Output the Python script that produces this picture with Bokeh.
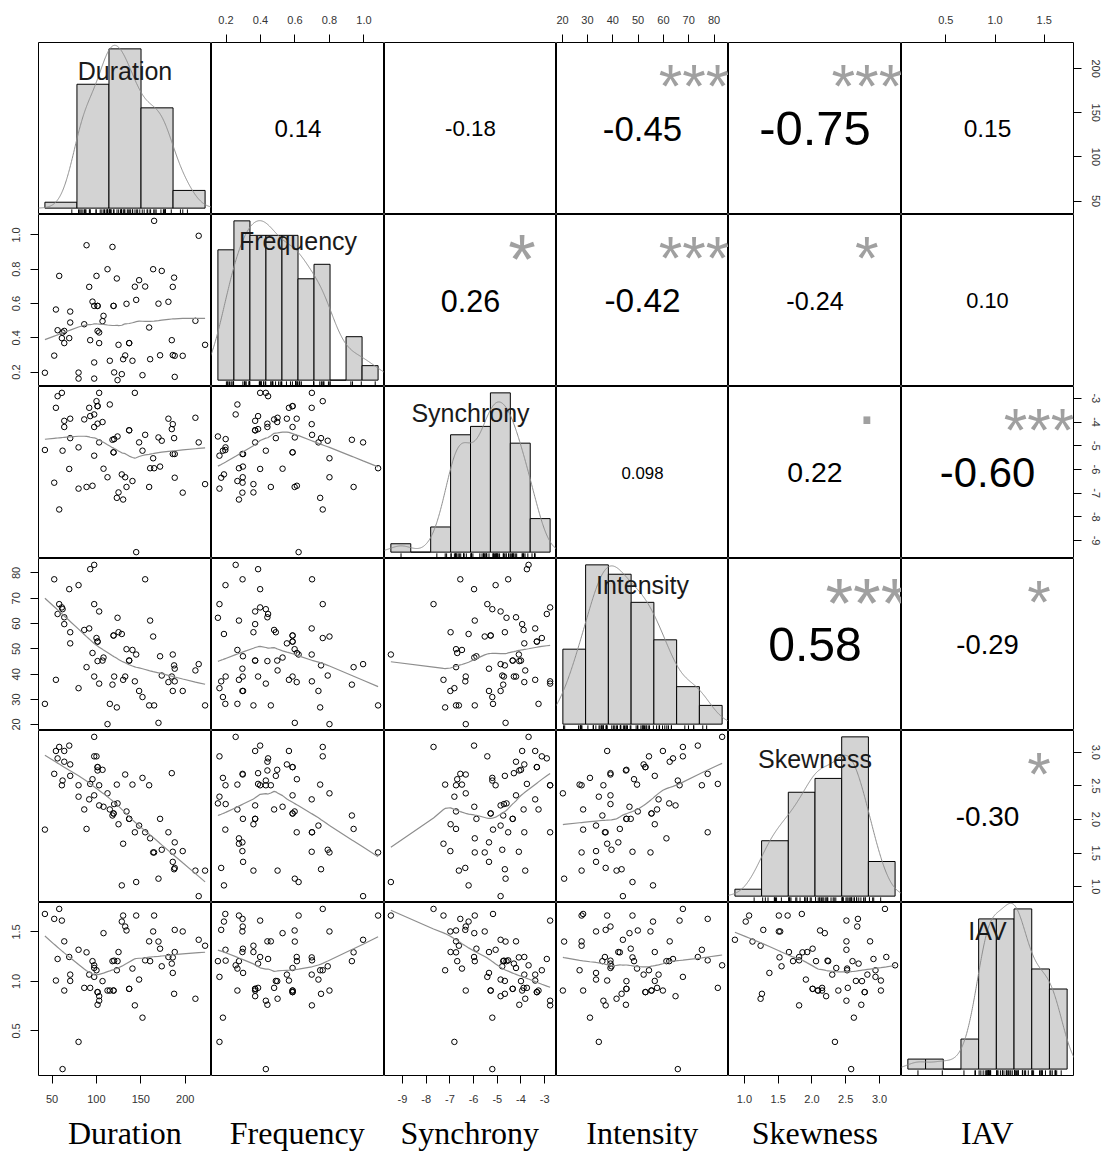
import numpy as np
from bokeh.plotting import figure
from bokeh.layouts import column, row
from bokeh.models import Range1d, LinearAxis, FixedTicker, FactorRange, PrintfTickFormatter
from bokeh.core.properties import value
from bokeh.embed import file_html
from bokeh.resources import INLINE

variables = ["Duration", "Frequency", "Synchrony", "Intensity", "Skewness", "IAV"]

duration = [42.0, 52.5, 54.4, 56.3, 58.1, 61.1, 61.9, 63.8, 63.8, 69.4, 70.5, 70.5, 79.9, 79.9, 86.3, 88.9,
            91.9, 93.0, 95.6, 97.5, 97.5, 97.5, 100.1, 101.3, 101.3, 103.1, 103.1, 106.9, 108.0, 112.5, 115.1,
            118.1, 119.3, 120.0, 123.0, 123.8, 124.9, 128.6, 130.1, 132.4, 133.9, 136.9, 140.6, 143.3, 144.8,
            148.1, 151.9, 154.9, 159.4, 160.5, 163.9, 165.0, 169.9, 171.7, 173.6, 181.1, 184.9, 186.0, 186.0,
            187.5, 188.2, 188.2, 197.2, 211.5, 215.2, 222.4, 101.3, 119.3, 136.9]
frequency = [0.196, 0.296, 0.565, 0.444, 0.761, 0.398, 0.431, 0.369, 0.440, 0.398, 0.553, 0.489, 0.197, 0.162,
             0.479, 0.940, 0.697, 0.386, 0.611, 0.256, 0.162, 0.586, 0.761, 0.586, 0.440, 0.431, 0.369, 0.497,
             0.528, 0.800, 0.266, 0.930, 0.586, 0.198, 0.746, 0.153, 0.359, 0.188, 0.275, 0.297, 0.598, 0.369,
             0.266, 0.698, 0.621, 0.736, 0.182, 0.699, 0.460, 0.275, 0.800, 1.082, 0.599, 0.298, 0.790, 0.610,
             0.386, 0.697, 0.299, 0.751, 0.295, 0.172, 0.295, 0.499, 0.995, 0.359, 0.586, 0.586, 0.369]
synchrony = [-5.18, -6.56, -3.40, -2.91, -7.69, -2.77, -5.21, -3.95, -4.21, -5.98, -3.86, -4.68, -5.07, -6.81,
             -3.89, -6.74, -3.40, -3.75, -6.69, -3.68, -5.42, -4.21, -3.12, -3.33, -4.07, -2.77, -4.86, -4.00,
             -5.97, -6.33, -3.26, -4.75, -5.28, -4.72, -7.20, -4.61, -6.97, -6.21, -7.27, -6.33, -6.74, -4.35,
             -6.49, -2.77, -9.49, -4.86, -5.21, -4.54, -6.74, -5.95, -5.53, -5.95, -4.65, -5.88, -4.79, -3.86,
             -4.30, -4.09, -5.35, -4.68, -5.35, -6.35, -6.98, -3.82, -4.86, -6.62, -3.33, -5.28, -4.35]
intensity = [28.3, 77.5, 37.8, 63.8, 67.7, 66.4, 65.7, 59.8, 62.5, 73.6, 52.2, 56.6, 75.2, 34.5, 57.5, 42.8,
             58.1, 81.5, 48.4, 83.2, 67.7, 39.1, 54.3, 52.9, 45.2, 36.3, 64.8, 45.4, 46.6, 20.3, 28.3, 35.9,
             55.3, 39.1, 26.9, 62.3, 56.6, 55.9, 37.8, 39.1, 49.9, 45.4, 49.6, 37.2, 47.8, 33.4, 31.0, 77.5,
             27.7, 61.2, 54.9, 27.7, 20.8, 47.1, 39.5, 36.9, 39.1, 47.8, 33.4, 43.5, 42.2, 37.2, 33.4, 41.5,
             44.0, 27.7, 52.9, 55.3, 45.4]
skewness = [1.85, 2.68, 3.02, 2.91, 3.08, 2.51, 2.58, 3.02, 2.86, 3.10, 2.82, 2.65, 2.51, 2.34, 2.15, 1.86,
            2.30, 2.53, 2.60, 3.23, 2.94, 2.36, 2.94, 2.78, 2.73, 2.51, 2.21, 2.74, 2.19, 2.39, 2.15, 2.06,
            2.09, 2.23, 2.52, 2.24, 1.93, 1.02, 1.64, 2.67, 2.12, 2.01, 2.52, 1.81, 1.07, 1.91, 2.62, 1.81,
            2.51, 1.72, 1.51, 1.51, 1.12, 2.01, 1.55, 1.81, 2.69, 1.52, 1.37, 1.26, 1.66, 1.28, 1.53, 1.24,
            0.86, 1.24, 2.78, 2.09, 2.01]
iav = [1.682, 1.632, 1.009, 1.227, 1.733, 1.615, 0.114, 0.908, 1.405, 1.247, 1.069, 1.005, 1.320, 0.389,
       0.935, 1.294, 1.069, 0.935, 1.205, 1.163, 1.046, 1.136, 1.113, 0.892, 0.764, 0.805, 0.851, 1.003,
       1.488, 0.908, 0.908, 1.205, 0.908, 1.210, 1.113, 1.205, 1.297, 1.605, 1.666, 1.555, 1.515, 0.925,
       1.130, 0.758, 1.666, 1.019, 0.634, 1.213, 1.405, 1.205, 1.505, 1.666, 1.403, 1.331, 1.153, 1.247,
       1.180, 1.243, 1.086, 0.875, 1.297, 1.521, 1.505, 0.825, 1.421, 1.361, 0.892, 0.908, 0.925]

duration_breaks = [0, 50, 100, 150, 200, 250]
frequency_breaks = [0.1, 0.2, 0.3, 0.4, 0.5, 0.6, 0.7, 0.8, 0.9, 1.0, 1.1]
synchrony_breaks = [-10, -9, -8, -7, -6, -5, -4, -3, -2]
intensity_breaks = [20, 30, 40, 50, 60, 70, 80, 90]
skewness_breaks = [0.5, 1.0, 1.5, 2.0, 2.5, 3.0, 3.5]
iav_breaks = [0.0, 0.2, 0.4, 0.6, 0.8, 1.0, 1.2, 1.4, 1.6, 1.8]

duration_ticks = [50, 100, 150, 200]
frequency_ticks = [0.2, 0.4, 0.6, 0.8, 1.0]
synchrony_ticks = [-9, -8, -7, -6, -5, -4, -3]
intensity_ticks = [20, 30, 40, 50, 60, 70, 80]
skewness_ticks = [1.0, 1.5, 2.0, 2.5, 3.0]
iav_ticks = [0.5, 1.0, 1.5]
tick_formats = ["%d", "%.1f", "%d", "%d", "%.1f", "%.1f"]

# correlation panel labels (upper triangle, row-wise), as printed on the chart
cor_text = ["0.14", "-0.18", "-0.45", "-0.75", "0.15",
            "0.26", "-0.42", "-0.24", "0.10",
            "0.098", "0.22", "-0.60",
            "0.58", "-0.29",
            "-0.30"]
cor_signif = ["", "", "***", "***", "",
              "*", "***", "*", "",
              "", ".", "***",
              "***", "*",
              "*"]

data = [duration, frequency, synchrony, intensity, skewness, iav]
breaks = [duration_breaks, frequency_breaks, synchrony_breaks, intensity_breaks, skewness_breaks, iav_breaks]
ticks = [duration_ticks, frequency_ticks, synchrony_ticks, intensity_ticks, skewness_ticks, iav_ticks]
for d in data:
    assert len(d) == len(duration)


# ---------------------------------------------------------------- helpers
def lowess(x, y, f=2 / 3, it=3):
    x = np.asarray(x, float); y = np.asarray(y, float)
    o = np.argsort(x, kind="mergesort"); x = x[o]; y = y[o]
    n = len(x)
    ns = max(2, min(n, int(f * n + 1e-7)))
    rw = np.ones(n); ys = np.zeros(n)
    xr = x[-1] - x[0]
    for step in range(it + 1):
        for i in range(n):
            d = np.abs(x - x[i])
            h = np.sort(d)[ns - 1]
            h9, h1 = 0.999 * h, 0.001 * h
            w = np.where(d <= h1, 1.0, np.where(d <= h9, (1 - (d / max(h, 1e-300)) ** 3) ** 3, 0.0)) * rw
            if w.sum() <= 0:
                ys[i] = y[i]; continue
            w = w / w.sum()
            if h > 0:
                a = np.sum(w * x); c = np.sum(w * (x - a) ** 2)
                if np.sqrt(c) > 0.001 * xr:
                    w = w * ((x[i] - a) * (x - a) / c + 1)
            ys[i] = np.sum(w * y)
        if step == it:
            break
        res = np.abs(y - ys)
        cmad = 6 * np.median(res)
        if cmad < 1e-7 * np.mean(res):
            break
        rw = np.where(res <= 0.001 * cmad, 1.0, np.where(res <= 0.999 * cmad, (1 - (res / cmad) ** 2) ** 2, 0.0))
    return x, ys


def r_density(x):
    x = np.asarray(x, float); n = len(x)
    q75, q25 = np.percentile(x, [75, 25])
    lo = min(x.std(ddof=1), (q75 - q25) / 1.34)
    bw = 0.9 * lo * n ** -0.2
    g = np.linspace(x.min() - 3 * bw, x.max() + 3 * bw, 512)
    dens = np.exp(-0.5 * ((g[:, None] - x[None, :]) / bw) ** 2).sum(1) / (n * bw * np.sqrt(2 * np.pi))
    return g, dens


def r_hist(x, b):
    x = np.asarray(x, float); b = np.asarray(b, float)
    idx = np.searchsorted(b, x, side="left")
    idx[idx == 0] = 1
    counts = np.bincount(idx - 1, minlength=len(b) - 1)
    return counts / (len(x) * np.diff(b))


def ext(lo, hi):
    pad = 0.04 * (hi - lo)
    return lo - pad, hi + pad


EM = {c: 0.556 for c in "0123456789"}
EM.update({".": 0.278, "-": 0.333, "*": 0.389})


def em_width(s):
    return sum(EM[c] for c in s)


FONT = "Liberation Sans"
GRAY_LINE = "#8e8e8e"
STAR = "#a0a0a0"
col_w = [173, 173, 172, 172, 173, 172]
row_h = [172, 172, 172, 172, 172, 173]
LEFT, TOP, RIGHT, BOTTOM = 38, 42, 34, 35
NAMES_H = 43

var_ranges = [ext(min(d), max(d)) for d in data]


def make_axis(dim, k, side):
    kw = dict(ticker=FixedTicker(ticks=ticks[k]), formatter=PrintfTickFormatter(format=tick_formats[k]),
              axis_line_color=None, major_tick_out=8, major_tick_in=0, major_tick_line_color="black",
              minor_tick_out=0, minor_tick_in=0, minor_tick_line_color=None,
              major_label_text_font=FONT, major_label_text_font_size="11px",
              major_label_text_color="#333333")
    if dim == "x":
        ax = LinearAxis(x_range_name="v", major_label_standoff=11, **kw)
    else:
        ax = LinearAxis(y_range_name="v", major_label_orientation="vertical",
                        major_label_standoff=10, **kw)
    return ax


cor_idx = 0
grid_rows = []
for i in range(6):
    figs = []
    for j in range(6):
        W, H = col_w[j], row_h[i]
        borders = dict(min_border_left=LEFT if j == 0 else 0, min_border_right=RIGHT if j == 5 else 0,
                       min_border_top=TOP if i == 0 else 0, min_border_bottom=BOTTOM if i == 5 else 0)
        if i == j:
            b = breaks[i]
            dens = r_hist(data[i], b)
            m = float(dens.max())
            xr = Range1d(*ext(b[0], b[-1]))
            yr = Range1d(-0.04 * m, 1.04 * m)
        elif i > j:
            xr = Range1d(*var_ranges[j]); yr = Range1d(*var_ranges[i])
        else:
            xr = Range1d(0, 1); yr = Range1d(0, 1)
        p = figure(frame_width=W, frame_height=H, x_range=xr, y_range=yr, x_axis_type=None, y_axis_type=None,
                   toolbar_location=None, output_backend="svg", title=None,
                   outline_line_color="black", outline_line_width=1,
                   background_fill_color="white", border_fill_color="white", **borders)
        p.extra_x_ranges = {"v": Range1d(*var_ranges[j]), "u": Range1d(0, 1)}
        p.extra_y_ranges = {"v": Range1d(*var_ranges[i]), "u": Range1d(0, 1)}

        if i == j:
            b = breaks[i]
            p.quad(left=b[:-1], right=b[1:], bottom=0, top=dens, fill_color="#d3d3d3",
                   line_color="black", line_width=1)
            g, dd = r_density(data[i])
            p.line(g, dd, line_color=GRAY_LINE, line_width=1)
            ybot = -0.04 * m
            ytop = ybot + 0.03 * 1.08 * m
            p.segment(x0=data[i], y0=ybot, x1=data[i], y1=ytop, line_color="black", line_width=1)
            lab = variables[i]
            desc = any(c in lab for c in "gjpqy")
            p.text(x=[0.5], y=[0.833], text=[lab], x_range_name="u", y_range_name="u",
                   text_font=value(FONT), text_font_size="25px", text_align="center",
                   text_baseline="middle", y_offset=(-2.5 if desc else 0.0),
                   text_color="#1a1a1a")
        elif i > j:
            p.scatter(data[j], data[i], marker="circle", size=5.5, fill_color=None,
                      line_color="black", line_width=1)
            sx, sy = lowess(data[j], data[i])
            p.line(sx, sy, line_color=GRAY_LINE, line_width=1.2)
        else:
            txt = cor_text[cor_idx]; sig = cor_signif[cor_idx]
            cor_idx += 1
            r = abs(float(txt))
            base = 0.8 * W / em_width(txt)
            fs = base * (r + 0.3) / 1.3
            p.text(x=[0.5], y=[0.5], text=[txt], text_font=value(FONT), text_font_size=f"{fs:.1f}px",
                   text_align="center", text_baseline="middle", text_color="black")
            if sig:
                off = 0.15 if "*" in sig else -0.30
                p.text(x=[0.8], y=[0.8], text=[sig], text_font=value(FONT), text_font_size=f"{base:.1f}px",
                       text_align="center", text_baseline="middle", y_offset=off * base, text_color=STAR)

        if i == 0 and j in (1, 3, 5):
            p.add_layout(make_axis("x", j, "above"), "above")
        if i == 5 and j in (0, 2, 4):
            p.add_layout(make_axis("x", j, "below"), "below")
        if j == 0 and i in (1, 3, 5):
            p.add_layout(make_axis("y", i, "left"), "left")
        if j == 5 and i in (0, 2, 4):
            p.add_layout(make_axis("y", i, "right"), "right")
        figs.append(p)
    grid_rows.append(row(*figs, spacing=0))

names_fig = figure(frame_width=sum(col_w), frame_height=NAMES_H, x_range=FactorRange(factors=variables),
                   y_range=Range1d(0, 1), x_axis_type=None, y_axis_type=None, toolbar_location=None,
                   output_backend="svg", title=None, outline_line_color=None,
                   min_border_left=LEFT, min_border_right=RIGHT, min_border_top=0, min_border_bottom=0,
                   background_fill_color="white", border_fill_color="white")
names_fig.text(x=variables, y=[0.48] * 6, text=variables, text_font=value("Liberation Serif"),
               text_font_size="32px", text_align="center", text_baseline="middle", text_color="black")

layout = column(*grid_rows, names_fig, spacing=0)
open("out.html", "w").write(file_html(layout, INLINE))
